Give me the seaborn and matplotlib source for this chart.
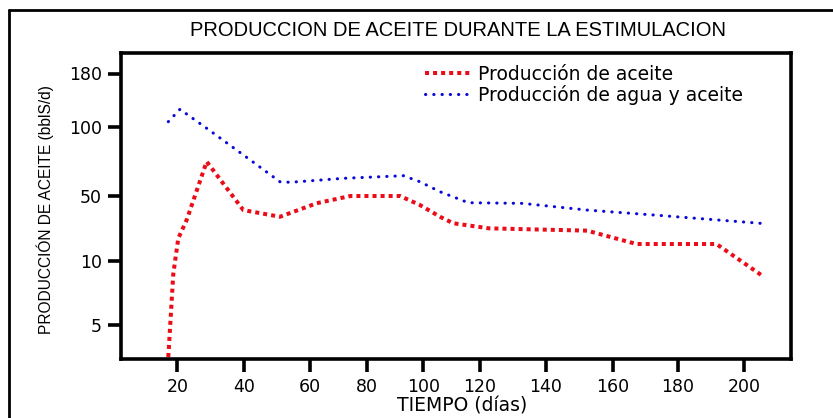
import numpy as np
import pandas as pd
import matplotlib
matplotlib.use("Agg")
import matplotlib.pyplot as plt
from matplotlib.lines import Line2D
import seaborn as sns

# ---------------- data ----------------
dias_aceite = [17.3, 18.8, 20.3, 22.8, 28.8, 39.8, 50.9, 62.4, 74.2, 91.8,
               98.8, 105.9, 110.6, 122.8, 152.3, 167.3, 191.6, 205.7]
prod_aceite = [2.5, 9.0, 23.9, 35.1, 74.9, 41.2, 37.1, 45.4, 49.8, 49.8,
               44.3, 37.1, 33.1, 30.0, 28.6, 20.4, 20.4, 8.8]

dias_total = [17.3, 20.8, 28.8, 39.8, 50.9, 54.0, 71.8, 93.0, 98.8, 105.9,
              115.9, 132.9, 152.3, 172.4, 204.8]
prod_total = [108.3, 126.8, 99.3, 79.8, 60.2, 59.8, 62.7, 64.6, 60.2, 52.9,
              45.7, 45.3, 41.2, 38.2, 33.1]

x_ticks = [20, 40, 60, 80, 100, 120, 140, 160, 180, 200]
y_ticks = [5, 10, 50, 100, 180]

serie_aceite = "Producción de aceite"
serie_total = "Producción de agua y aceite"
titulo = "PRODUCCION DE ACEITE DURANTE LA ESTIMULACION"
x_label = "TIEMPO (días)"
y_label = "PRODUCCIÓN DE ACEITE (bblS/d)"

# ------------- axis scale definition (non-uniform printed axes) -------------
x_scale_anchor = [177.3, 244, 310, 366.7, 423.3, 480, 546, 612.7, 678, 744.3]
y_scale_anchor = [-325, -261, -195.7, -127.3, -73.5]


def piecewise(xp, fp):
    xp = np.asarray(xp, float)
    fp = np.asarray(fp, float)
    sl = (fp[1] - fp[0]) / (xp[1] - xp[0])
    sr = (fp[-1] - fp[-2]) / (xp[-1] - xp[-2])

    def f(v):
        v = np.asarray(v, float)
        out = np.interp(v, xp, fp)
        out = np.where(v < xp[0], fp[0] + (v - xp[0]) * sl, out)
        out = np.where(v > xp[-1], fp[-1] + (v - xp[-1]) * sr, out)
        return out
    return f


x_fwd = piecewise(x_ticks, x_scale_anchor)
x_inv = piecewise(x_scale_anchor, x_ticks)
y_fwd = piecewise(y_ticks, y_scale_anchor)
y_inv = piecewise(y_scale_anchor, y_ticks)

df_a = pd.DataFrame({"dias": dias_aceite, "prod": prod_aceite})
df_t = pd.DataFrame({"dias": dias_total, "prod": prod_total})

# ---------------- figure ----------------
sns.set_style("ticks")
plt.rcParams["font.family"] = ["DejaVu Sans"]
plt.rcParams["text.color"] = "black"
plt.rcParams["axes.labelcolor"] = "black"
plt.rcParams["axes.edgecolor"] = "black"

W, H = 833, 418
fig = plt.figure(figsize=(W / 100, H / 100), dpi=100)
L, R, T, B = 120.7, 791, 53.3, 359.3
ax = fig.add_axes([L / W, 1 - B / H, (R - L) / W, (B - T) / H])

ax.set_xscale("function", functions=(x_fwd, x_inv))
ax.set_yscale("function", functions=(y_fwd, y_inv))

red = "#ec0c18"
blue = "#0a0ad8"
sns.lineplot(data=df_a, x="dias", y="prod", ax=ax, color=red, lw=2.9,
             linestyle=(0, (1, 1.0)), sort=False, label=serie_aceite)
sns.lineplot(data=df_t, x="dias", y="prod", ax=ax, color=blue, lw=2.2,
             linestyle=(0, (0.1, 2.6)), sort=False, label=serie_total,
             dash_capstyle="round")

ax.set_xlim(float(x_inv(L)), float(x_inv(R)))
ax.set_ylim(float(y_inv(-B)), float(y_inv(-T)))
ax.set_xticks(x_ticks)
ax.set_xticklabels([str(v) for v in x_ticks])
ax.set_yticks(y_ticks)
ax.set_yticklabels([str(v) for v in y_ticks])
ax.minorticks_off()

for s in ax.spines.values():
    s.set_linewidth(2.6)
    s.set_visible(True)
    s.set_color("black")
ax.tick_params(axis="both", direction="out", length=9.5, width=2.6,
               labelsize=12.5, colors="black", pad=4)

ax.set_xlabel(x_label, fontsize=13.5)
ax.xaxis.set_label_coords((462 - L) / (R - L), (B - 397) / (B - T))
ax.set_ylabel(y_label, fontsize=11.2,
              family=["Liberation Sans Narrow", "Liberation Sans", "DejaVu Sans"])
ax.yaxis.set_label_coords((45 - L) / (R - L), (B - 210) / (B - T))
ax.yaxis.label.set_va("center")

leg = ax.legend(loc="upper left", bbox_to_anchor=((425 - L) / (R - L), (B - 65) / (B - T)),
                frameon=False, fontsize=13.5, handlelength=2.4, handletextpad=0.4,
                labelspacing=0.05, borderpad=0, borderaxespad=0)
for t in leg.get_texts():
    t.set_color("black")

fig.text(458 / W, 1 - 30 / H, titulo, ha="center", va="center", fontsize=14.5,
         color="black",
         family=["Liberation Sans Narrow", "Liberation Sans", "DejaVu Sans"])

# outer frame
fig.add_artist(Line2D([9 / W, 9 / W], [0, 1 - 10 / H], transform=fig.transFigure,
                      color="black", lw=2))
fig.add_artist(Line2D([9 / W, 1], [1 - 10 / H, 1 - 10 / H], transform=fig.transFigure,
                      color="black", lw=2))

fig.savefig("out.png", dpi=100)
